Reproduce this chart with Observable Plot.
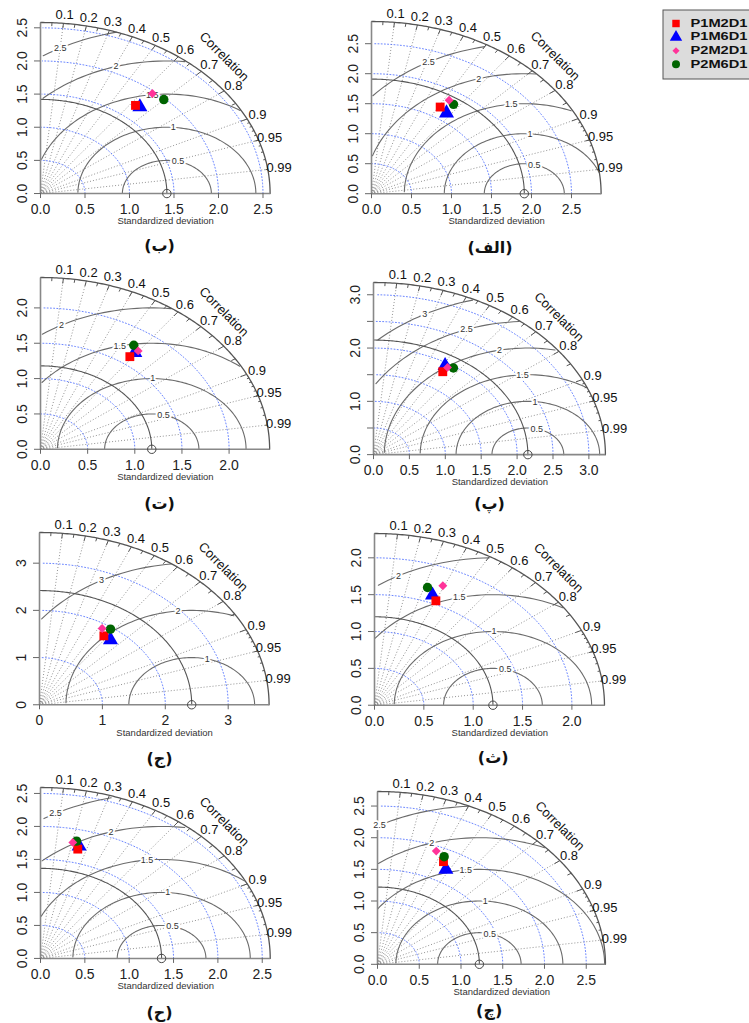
<!DOCTYPE html>
<html>
<head>
<meta charset="utf-8">
<script src="https://cdn.jsdelivr.net/npm/d3@7"></script>
<script src="https://cdn.jsdelivr.net/npm/@observablehq/plot@0.6"></script>
<style>
  body { margin: 0; background: #fff; }
  #page { position: relative; width: 749px; height: 1023px; overflow: hidden; background: #fff; }
  #page svg { position: absolute; }
</style>
</head>
<body>
<div id="page"></div>
<script>
// ---------------- data ----------------
const models = ["P1M2D1", "P1M6D1", "P2M2D1", "P2M6D1"];
const modelColors = ["#ff0000", "#0000ff", "#ff3399", "#006400"];
const modelSymbols = ["square", "triangle", "diamond2", "circle"];

const panelNames = ["(الف)", "(ب)", "(پ)", "(ت)", "(ث)", "(ج)", "(چ)", "(ح)"];
const refSD = [1.91, 1.42, 2.15, 1.18, 1.20, 2.42, 1.22, 1.365];
const maxSD = [2.87, 2.58, 3.23, 2.43, 2.33, 3.65, 2.73, 2.59];

const axisTicks = [
  [0, 0.5, 1, 1.5, 2, 2.5],
  [0, 0.5, 1, 1.5, 2, 2.5],
  [0, 0.5, 1, 1.5, 2, 2.5, 3],
  [0, 0.5, 1, 1.5, 2],
  [0, 0.5, 1, 1.5, 2],
  [0, 1, 2, 3],
  [0, 0.5, 1, 1.5, 2, 2.5],
  [0, 0.5, 1, 1.5, 2, 2.5]
];
const yTickLabels = [
  [0, 0.5, 1, 1.5, 2, 2.5],
  [0, 0.5, 1, 1.5, 2, 2.5],
  [0, 1, 2, 3],
  [0, 0.5, 1, 1.5, 2],
  [0, 0.5, 1, 1.5, 2],
  [0, 1, 2, 3],
  [0, 0.5, 1, 1.5, 2, 2.5],
  [0, 0.5, 1, 1.5, 2, 2.5]
];
const tickDecimals = [1, 1, 1, 1, 1, 0, 1, 1];
const gammaLevels = [
  [0.5, 1, 1.5, 2, 2.5],
  [0.5, 1, 1.5, 2, 2.5],
  [0.5, 1, 1.5, 2, 2.5, 3],
  [0.5, 1, 1.5, 2],
  [0.5, 1, 1.5, 2],
  [1, 2, 3],
  [0.5, 1, 1.5, 2, 2.5],
  [0.5, 1, 1.5, 2, 2.5]
];
// standardized deviation of each model (P1M2D1, P1M6D1, P2M2D1, P2M6D1) per panel
const sdValues = [
  [1.680, 1.639, 1.834, 1.808],
  [1.705, 1.718, 1.964, 1.982],
  [1.831, 1.944, 1.934, 1.970],
  [1.617, 1.695, 1.735, 1.773],
  [1.547, 1.605, 1.762, 1.685],
  [1.783, 1.780, 1.898, 1.960],
  [1.804, 1.709, 1.922, 1.878],
  [1.709, 1.757, 1.795, 1.824]
];
// correlation of each model per panel
const corValues = [
  [0.511, 0.572, 0.529, 0.567],
  [0.626, 0.650, 0.640, 0.699],
  [0.527, 0.513, 0.533, 0.565],
  [0.586, 0.590, 0.597, 0.558],
  [0.402, 0.366, 0.393, 0.319],
  [0.574, 0.634, 0.525, 0.576],
  [0.438, 0.479, 0.366, 0.425],
  [0.246, 0.248, 0.203, 0.223]
];
const corrLabels = [0.1, 0.2, 0.3, 0.4, 0.5, 0.6, 0.7, 0.8, 0.9, 0.95, 0.99];
const corrLines = [0.1, 0.2, 0.3, 0.4, 0.5, 0.6, 0.7, 0.8, 0.9, 0.95, 0.99];
const bigTicks = [0.1, 0.2, 0.3, 0.4, 0.5, 0.6, 0.7, 0.8, 0.9];
const medTicks = [0.05, 0.15, 0.25, 0.35, 0.45, 0.55, 0.65, 0.75, 0.85, 0.95];
const smlTicks = [0.91, 0.92, 0.93, 0.94, 0.95, 0.96, 0.97, 0.98, 0.99];
const xLabelText = "Standardized deviation";
const corrTitle = "Correlation";

// ---------------- layout (page pixels) ----------------
const layout = [
  {ox: 370.7, oy: 193.3, ux: 80.0, uy: 60.0, capX: 489.3, capY: 247},
  {ox: 40.0,  oy: 193.3, ux: 89.0, uy: 66.3, capX: 159.0, capY: 246},
  {ox: 373.3, oy: 454.0, ux: 71.8, uy: 53.3, capX: 489.3, capY: 503},
  {ox: 40.0,  oy: 449.0, ux: 94.3, uy: 70.7, capX: 159.0, capY: 504},
  {ox: 374.3, oy: 705.0, ux: 98.7, uy: 73.7, capX: 493.0, capY: 758},
  {ox: 39.0,  oy: 704.0, ux: 62.9, uy: 47.2, capX: 159.0, capY: 758},
  {ox: 377.3, oy: 964.3, ux: 83.5, uy: 63.3, capX: 489.0, capY: 1011},
  {ox: 40.0,  oy: 958.3, ux: 88.7, uy: 66.0, capX: 159.0, capY: 1013}
];

const page = document.getElementById("page");
const FONT = "'Liberation Sans', Arial, Helvetica, sans-serif";

function seqBy(a0, a1, step) {
  const out = [];
  for (let k = 0; a0 + k * step <= a1 + 1e-9; k++) out.push(a0 + k * step);
  return out;
}

function makePanel(i) {
  const L = layout[i];
  const R = maxSD[i];
  const ref = refSD[i];
  const mL = 40, mR = 52, mT = 22, mB = 68;
  const w = R * L.ux, h = R * L.uy;
  const width = mL + w + mR, height = mT + h + mB;
  const fmt = d3.format("." + tickDecimals[i] + "f");

  // sd arcs (blue dotted) at axis ticks
  const sdArcs = [];
  axisTicks[i].filter(t => t > 0).forEach(t => {
    seqBy(0, Math.PI / 2, 0.03).forEach(a => sdArcs.push({k: t, x: t * Math.cos(a), y: t * Math.sin(a)}));
  });

  // RMS (gamma) contours centered on reference point
  const gam = gammaLevels[i];
  const gamLines = [], gamLabels = [];
  const angs = seqBy(0, Math.PI, 0.03);
  const n = gam.length;
  gam.forEach((g, gi) => {
    const xs = angs.map(a => Math.cos(a) * g + ref);
    const ys = angs.map(a => Math.sin(a) * g);
    const firstNeg = xs.findIndex(x => x < 0);
    const end = firstNeg >= 0 ? firstNeg - 1 : angs.length - 1;
    let maxOut = -1;
    xs.forEach((x, k) => { if (x * x + ys[k] * ys[k] > R * R) maxOut = k; });
    const start = maxOut >= 0 ? maxOut + 1 : 0;
    for (let k = start; k <= end; k++) gamLines.push({k: g, x: xs[k], y: ys[k]});
    const lp = n > 1 ? 45 + (70 - 45) * gi / (n - 1) : 45;
    const idx = Math.floor(lp + 1e-9) - 1;
    if (xs[idx] > 0) gamLabels.push({g, x: xs[idx], y: ys[idx]});
  });

  const refArc = seqBy(0, Math.PI / 2, 0.01).map(a => ({x: ref * Math.cos(a), y: ref * Math.sin(a)}));
  const outerArc = seqBy(0, Math.PI / 2, 0.01).map(a => ({x: R * Math.cos(a), y: R * Math.sin(a)}));

  const tickSeg = (vals, f) => vals.map(c => {
    const s = Math.sqrt(1 - c * c);
    return {x1: R * c, y1: R * s, x2: f * R * c, y2: f * R * s};
  });
  const ticks = [...tickSeg(bigTicks, 0.97), ...tickSeg(medTicks, 0.98), ...tickSeg(smlTicks, 0.99)];

  const pts = models.map((m, j) => {
    const sd = sdValues[i][j], r = corValues[i][j];
    return {model: m, j, x: sd * r, y: sd * Math.sqrt(1 - r * r)};
  });
  const symR = [5.0, 5.6, 4.0, 4.7];

  const svg = Plot.plot({
    width, height,
    marginLeft: mL, marginRight: mR, marginTop: mT, marginBottom: mB,
    x: {domain: [0, R]},
    y: {domain: [0, R]},
    r: {type: "identity"},
    color: {domain: models, range: modelColors},
    symbol: {domain: models, range: modelSymbols},
    style: {background: "transparent", fontFamily: FONT, overflow: "visible"},
    marks: [
      // correlation radials
      Plot.link(corrLines, {
        x1: () => 0, y1: () => 0,
        x2: c => R * c, y2: c => R * Math.sqrt(1 - c * c),
        stroke: "#777", strokeWidth: 0.8, strokeDasharray: "1,2"
      }),
      // sd arcs
      Plot.line(sdArcs, {x: "x", y: "y", z: "k", stroke: "#5a78ff", strokeWidth: 0.9, strokeDasharray: "1,2.2"}),
      // rms contours
      Plot.line(gamLines, {x: "x", y: "y", z: "k", stroke: "#6b6b6b", strokeWidth: 1.1}),
      // reference sd arc
      Plot.line(refArc, {x: "x", y: "y", stroke: "#555", strokeWidth: 1.1}),
      // outer arc
      Plot.line(outerArc, {x: "x", y: "y", stroke: "#555", strokeWidth: 1.3}),
      // correlation tick marks
      Plot.link(ticks, {x1: "x1", y1: "y1", x2: "x2", y2: "y2", stroke: "#555", strokeWidth: 1}),
      // axis lines
      Plot.link([{x1: 0, y1: 0, x2: R, y2: 0}, {x1: 0, y1: 0, x2: 0, y2: R}],
        {x1: "x1", y1: "y1", x2: "x2", y2: "y2", stroke: "#888", strokeWidth: 1.6}),
      // axes
      Plot.axisX({ticks: axisTicks[i], tickSize: 5, tickPadding: 5.5, tickFormat: fmt, fontSize: 14, label: null, stroke: "#666", fill: "#222"}),
      Plot.axisY({ticks: axisTicks[i], tickSize: 6, tickFormat: () => "", label: null, stroke: "#666"}),
      Plot.text(yTickLabels[i], {x: () => 0, y: d => d, dx: -18, rotate: -90, text: d => fmt(d), fontSize: 14, fill: "#222"}),
      // correlation labels
      Plot.text(corrLabels, {
        x: c => 1.05 * R * c, y: c => 1.05 * R * Math.sqrt(1 - c * c),
        text: c => String(c), fontSize: 13, fill: "#111"
      }),
      Plot.text([corrTitle], {x: () => 0.8 * R, y: () => 0.8 * R, text: d => d, rotate: 45, fontSize: 13, fill: "#111"}),
      // rms labels (boxed)
      Plot.text(gamLabels, {x: "x", y: "y", text: d => String(d.g), fontSize: 9, fill: "#333", stroke: "white", strokeWidth: 4}),
      // reference point
      Plot.dot([ref], {x: d => d, y: () => 0, r: () => 4.2, stroke: "#444", strokeWidth: 1, fill: "none"}),
      // model points
      Plot.dot(pts, {x: "x", y: "y", symbol: "model", fill: "model", r: d => symR[d.j]}),
      // x label and caption
      Plot.text([xLabelText], {x: () => 0.545 * R, y: () => 0, dy: 27.7, text: d => d, fontSize: 9.5, fill: "#333"}),
      Plot.text([panelNames[i]], {
        x: () => (L.capX - L.ox) / L.ux, y: () => 0, dy: L.capY - L.oy,
        text: d => d, fontSize: 16, fontWeight: "bold", fill: "#111",
        fontFamily: "'DejaVu Sans', 'Noto Sans', sans-serif"
      })
    ]
  });
  svg.style.left = (L.ox - mL) + "px";
  svg.style.top = (L.oy - h - mT) + "px";
  page.appendChild(svg);
}

for (let i = 0; i < panelNames.length; i++) makePanel(i);

// ---------------- legend ----------------
const legW = 88, legH = 70;
const legend = Plot.plot({
  width: legW, height: legH, margin: 0,
  x: {type: "identity", axis: null}, y: {type: "identity", axis: null},
  r: {type: "identity"},
  color: {domain: models, range: modelColors},
  symbol: {domain: models, range: modelSymbols},
  style: {background: "transparent", fontFamily: FONT, overflow: "visible"},
  marks: [
    Plot.frame({fill: "#dcdcdc", stroke: "#555", strokeWidth: 1, inset: 0.5}),
    Plot.dot(models, {x: () => 13.5, y: (d, k) => 14 + k * 13.6, symbol: d => d, fill: d => d,
      r: d => [4.2, 4.6, 3.2, 4.0][models.indexOf(d)]}),
    Plot.text(models, {x: () => 28, y: (d, k) => 14 + k * 13.6, text: d => d, textAnchor: "start",
      fontSize: 10.5, fontWeight: "bold", fill: "#111"})
  ]
});
legend.style.left = "662px";
legend.style.top = "9px";
page.appendChild(legend);
legend.querySelectorAll("text").forEach(t => {
  t.setAttribute("textLength", "57");
  t.setAttribute("lengthAdjust", "spacingAndGlyphs");
});
</script>
</body>
</html>
